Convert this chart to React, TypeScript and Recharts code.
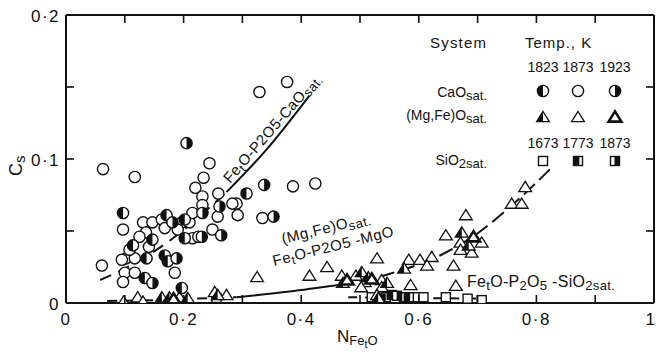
import { ComposedChart, Scatter, XAxis, YAxis } from "recharts";

// Cs vs N(FetO) — scanned figure.
type Pt = { x: number; y: number };
const toPts = (a: number[][]): Pt[] => a.map(([x, y]) => ({ x, y }));

// CaO saturated, circles (1823 left-black, 1873 open, 1923 right-black)
const caO1823 = toPts([
  [0.307, 0.076], [0.097, 0.0625], [0.171, 0.061], [0.202, 0.045], [0.114, 0.04],
  [0.147, 0.044], [0.137, 0.031], [0.168, 0.033], [0.173, 0.029], [0.134, 0.0174],
  [0.197, 0.0104], [0.202, 0.058],
]);
const caO1873 = toPts([
  [0.329, 0.1465], [0.376, 0.1535], [0.063, 0.093], [0.117, 0.0875], [0.244, 0.097],
  [0.234, 0.087], [0.22, 0.08], [0.232, 0.074], [0.259, 0.076], [0.386, 0.081],
  [0.424, 0.083], [0.29, 0.069], [0.232, 0.068], [0.283, 0.069], [0.292, 0.061],
  [0.258, 0.06], [0.097, 0.051], [0.131, 0.056], [0.147, 0.056], [0.163, 0.058],
  [0.197, 0.056], [0.21, 0.056], [0.215, 0.0625], [0.136, 0.049], [0.168, 0.052],
  [0.19, 0.051], [0.249, 0.051], [0.215, 0.045], [0.334, 0.059], [0.061, 0.026],
  [0.141, 0.039], [0.102, 0.031], [0.117, 0.031], [0.1, 0.021], [0.117, 0.021],
  [0.097, 0.0146], [0.185, 0.021], [0.095, 0.03], [0.125, 0.046], [0.108, 0.037],
  [0.225, 0.046],
]);
const caO1923 = toPts([
  [0.205, 0.111], [0.337, 0.082], [0.261, 0.067], [0.181, 0.056], [0.232, 0.0625],
  [0.264, 0.047], [0.231, 0.046], [0.353, 0.06], [0.188, 0.031], [0.147, 0.0139],
]);

// (Mg,Fe)O saturated, triangles
const mg1823 = toPts([
  [0.163, 0.004], [0.176, 0.004], [0.207, 0.0035], [0.258, 0.0056], [0.673, 0.049],
  [0.685, 0.04], [0.575, 0.024], [0.471, 0.014], [0.503, 0.0215], [0.514, 0.018],
  [0.546, 0.014], [0.531, 0.0035],
]);
const mg1873 = toPts([
  [0.098, 0.001], [0.122, 0.004], [0.131, 0.001], [0.193, 0.004], [0.253, 0.0076],
  [0.273, 0.0056], [0.325, 0.018], [0.414, 0.019], [0.444, 0.025], [0.781, 0.0806],
  [0.758, 0.069], [0.775, 0.069], [0.68, 0.061], [0.646, 0.047], [0.671, 0.042],
  [0.671, 0.037], [0.69, 0.035], [0.707, 0.042], [0.659, 0.026], [0.583, 0.03],
  [0.602, 0.03], [0.622, 0.032], [0.614, 0.026], [0.529, 0.031], [0.586, 0.0125],
  [0.663, 0.012], [0.469, 0.019], [0.493, 0.019], [0.508, 0.0146], [0.502, 0.011],
  [0.537, 0.016], [0.537, 0.011], [0.529, 0.0056],
]);
const mg1923 = toPts([[0.693, 0.046], [0.52, 0.0167], [0.183, 0.003], [0.478, 0.016]]);

// SiO2 saturated, squares (1673 open, 1773 left-black, 1873 right-black)
const si1673 = toPts([
  [0.256, 0.0035], [0.52, 0.004], [0.544, 0.004], [0.575, 0.004], [0.595, 0.004],
  [0.608, 0.004], [0.646, 0.004], [0.683, 0.003], [0.707, 0.002],
]);
const si1773 = toPts([[0.554, 0.0056], [0.583, 0.004]]);
const si1873 = toPts([[0.563, 0.005], [0.535, 0.003]]);

// fitted curves
const caoDashed = toPts([[0.058, 0.016], [0.075, 0.019], [0.172, 0.042], [0.273, 0.077]]);
const caoSolid = toPts([[0.273, 0.077], [0.342, 0.107], [0.414, 0.144]]);
const mgDashed = toPts([[0.07, 0.0014], [0.15, 0.002], [0.22, 0.003], [0.29, 0.004]]);
const mgSolid = toPts([[0.29, 0.004], [0.38, 0.008], [0.464, 0.0125]]);
const mgUpper = toPts([
  [0.464, 0.0125], [0.548, 0.02], [0.636, 0.033], [0.702, 0.049], [0.756, 0.067], [0.826, 0.094],
]);
const siDashed = toPts([[0.48, 0.004], [0.71, 0.003]]);

const xTicks = [0, 0.1, 0.2, 0.3, 0.4, 0.5, 0.6, 0.7, 0.8, 0.9, 1];
const xTickLabels = ["0", "", "0·2", "", "0·4", "", "0·6", "", "0·8", "", "1"];
const yTicks = [0, 0.05, 0.1, 0.15, 0.2];
const yTickLabels = ["0", "", "0·1", "", "0·2"];

const FONT = "'Liberation Sans', Arial, sans-serif";
const INK = "#111";

function CircleMark({ cx, cy, side }: { cx: number; cy: number; side: "none" | "left" | "right" }) {
  const r = 5.6;
  return (
    <g>
      <circle cx={cx} cy={cy} r={r} fill="#fff" stroke={INK} strokeWidth={1.4} />
      {side !== "none" && (
        <path d={`M${cx},${cy - r} A${r},${r} 0 0 ${side === "right" ? 1 : 0} ${cx},${cy + r} Z`} fill={INK} />
      )}
    </g>
  );
}

function TriMark({ cx, cy, kind }: { cx: number; cy: number; kind: "half" | "open" | "bold" }) {
  const w = 6.4;
  const top = cy - 5.6;
  const bot = cy + 4.6;
  return (
    <g>
      <polygon
        points={`${cx},${top} ${cx - w},${bot} ${cx + w},${bot}`}
        fill="#fff"
        stroke={INK}
        strokeWidth={kind === "bold" ? 2.6 : 1.3}
      />
      {kind === "half" && <polygon points={`${cx},${top} ${cx - w},${bot} ${cx},${bot}`} fill={INK} />}
    </g>
  );
}

function SqMark({ cx, cy, side }: { cx: number; cy: number; side: "none" | "left" | "right" }) {
  const s = 4.5;
  return (
    <g>
      <rect x={cx - s} y={cy - s} width={2 * s} height={2 * s} fill="#fff" stroke={INK} strokeWidth={1.4} />
      {side === "left" && <rect x={cx - s} y={cy - s} width={s * 1.3} height={2 * s} fill={INK} />}
      {side === "right" && <rect x={cx + s - s * 1.1} y={cy - s} width={s * 1.1} height={2 * s} fill={INK} />}
    </g>
  );
}

const none = () => <g />;

function BottomTick(p: any) {
  const label = xTickLabels[p.index];
  const last = p.index === xTicks.length - 1;
  return (
    <g>
      <line x1={p.x} x2={p.x} y1={p.y} y2={p.y - 8} stroke={INK} strokeWidth={1.6} />
      {label && (
        <text x={last ? 655 : p.x} y={p.y + 22} textAnchor={last ? "end" : "middle"} fontFamily={FONT}
          fontSize={17} letterSpacing={last ? 0 : 1.5} fill={INK}>
          {label}
        </text>
      )}
    </g>
  );
}
function TopTick(p: any) {
  return <line x1={p.x} x2={p.x} y1={p.y} y2={p.y + 8} stroke={INK} strokeWidth={1.6} />;
}
function LeftTick(p: any) {
  const label = yTickLabels[p.index];
  return (
    <g>
      <line x1={p.x} x2={p.x + 8} y1={p.y} y2={p.y} stroke={INK} strokeWidth={1.6} />
      {label && (
        <text x={p.x - 6} y={p.y + 7} textAnchor="end" fontFamily={FONT} fontSize={17} letterSpacing={1.5} fill={INK}>
          {label}
        </text>
      )}
    </g>
  );
}
function RightTick(p: any) {
  return <line x1={p.x} x2={p.x - 8} y1={p.y} y2={p.y} stroke={INK} strokeWidth={1.6} />;
}

const axisLine = { stroke: INK, strokeWidth: 2 };

export default function App() {
  const curve = (data: Pt[], dash?: string) => (
    <Scatter
      data={data}
      xAxisId="t"
      yAxisId="r"
      fill={INK}
      line={{ stroke: INK, strokeWidth: 2, strokeDasharray: dash }}
      lineJointType="monotoneX"
      shape={none}
      isAnimationActive={false}
    />
  );
  const mark = (data: Pt[], shape: (p: any) => any) => (
    <Scatter data={data} xAxisId="b" yAxisId="l" shape={shape} isAnimationActive={false} />
  );
  const colX = [543, 578, 615];

  return (
    <div style={{ position: "absolute", left: 0, top: 0, width: 656, height: 354, background: "#fff" }}>
      <ComposedChart width={656} height={354} margin={{ top: 14, right: 1, bottom: 50, left: 65 }}>
        <XAxis xAxisId="b" dataKey="x" type="number" domain={[0, 1]} ticks={xTicks} interval={0}
          tickSize={0} tickMargin={0} height={1} axisLine={axisLine} tickLine={false} tick={BottomTick} allowDataOverflow />
        <XAxis xAxisId="t" orientation="top" dataKey="x" type="number" domain={[0, 1]} ticks={xTicks} interval={0}
          tickSize={0} tickMargin={0} height={1} axisLine={axisLine} tickLine={false} tick={TopTick} allowDataOverflow />
        <YAxis yAxisId="l" dataKey="y" type="number" domain={[0, 0.2]} ticks={yTicks} interval={0}
          tickSize={0} tickMargin={0} width={1} axisLine={axisLine} tickLine={false} tick={LeftTick} allowDataOverflow />
        <YAxis yAxisId="r" orientation="right" dataKey="y" type="number" domain={[0, 0.2]} ticks={yTicks} interval={0}
          tickSize={0} tickMargin={0} width={1} axisLine={axisLine} tickLine={false} tick={RightTick} allowDataOverflow />

        {curve(caoDashed, "12 8")}
        {curve(caoSolid)}
        {curve(mgDashed, "10 8")}
        {curve(mgSolid)}
        {curve(mgUpper, "15 6")}
        {curve(siDashed, "9 8")}

        {mark(si1673, (p: any) => <SqMark cx={p.cx} cy={p.cy} side="none" />)}
        {mark(si1773, (p: any) => <SqMark cx={p.cx} cy={p.cy} side="left" />)}
        {mark(si1873, (p: any) => <SqMark cx={p.cx} cy={p.cy} side="right" />)}
        {mark(mg1873, (p: any) => <TriMark cx={p.cx} cy={p.cy} kind="open" />)}
        {mark(mg1823, (p: any) => <TriMark cx={p.cx} cy={p.cy} kind="half" />)}
        {mark(mg1923, (p: any) => <TriMark cx={p.cx} cy={p.cy} kind="bold" />)}
        {mark(caO1873, (p: any) => <CircleMark cx={p.cx} cy={p.cy} side="none" />)}
        {mark(caO1823, (p: any) => <CircleMark cx={p.cx} cy={p.cy} side="left" />)}
        {mark(caO1923, (p: any) => <CircleMark cx={p.cx} cy={p.cy} side="right" />)}
      </ComposedChart>

      <svg width={656} height={354} style={{ position: "absolute", left: 0, top: 0, pointerEvents: "none" }}
        fontFamily={FONT} fill={INK}>
        {/* axis titles */}
        <text transform="translate(22,176) rotate(-90)" fontSize={18}>
          C<tspan dy={3} fontSize={15}>s</tspan>
        </text>
        <text x={337} y={342} fontSize={17}>
          N<tspan dy={3} fontSize={13}>Fe</tspan>
          <tspan dy={3} fontSize={11}>t</tspan>
          <tspan dy={-3} fontSize={13}>O</tspan>
        </text>

        {/* curve labels */}
        <text transform="translate(230,184) rotate(-49)" fontSize={15} letterSpacing={0.4}>
          Fe<tspan dy={3} fontSize={12}>t</tspan>
          <tspan dy={-3}>O-P2O5-CaO</tspan>
          <tspan dy={3} fontSize={13}>sat.</tspan>
        </text>
        <text transform="translate(283,244) rotate(-14)" fontSize={15} letterSpacing={0.5}>
          (Mg,Fe)O<tspan dy={3} fontSize={13}>sat.</tspan>
        </text>
        <text transform="translate(274,266) rotate(-14)" fontSize={15} letterSpacing={0.5}>
          Fe<tspan dy={3} fontSize={12}>t</tspan>
          <tspan dy={-3}>O-P2O5 -MgO</tspan>
        </text>
        <text x={467} y={287} fontSize={16} letterSpacing={0.3}>
          Fe<tspan dy={3} fontSize={13}>t</tspan>
          <tspan dy={-3}>O-P</tspan>
          <tspan dy={3} fontSize={13}>2</tspan>
          <tspan dy={-3}>O</tspan>
          <tspan dy={3} fontSize={13}>5</tspan>
          <tspan dy={-3}> -SiO</tspan>
          <tspan dy={3} fontSize={13}>2sat.</tspan>
        </text>

        {/* legend */}
        <text x={430} y={48} fontSize={15} letterSpacing={1.2}>System</text>
        <text x={525} y={48} fontSize={15} letterSpacing={1}>Temp., K</text>
        {["1823", "1873", "1923"].map((t, i) => (
          <text key={t} x={colX[i]} y={72} fontSize={14} textAnchor="middle">{t}</text>
        ))}
        <text x={487} y={97} fontSize={14} textAnchor="end">
          CaO<tspan dy={3} fontSize={13}>sat.</tspan>
        </text>
        <CircleMark cx={colX[0]} cy={91} side="left" />
        <CircleMark cx={colX[1]} cy={91} side="none" />
        <CircleMark cx={colX[2]} cy={91} side="right" />
        <text x={487} y={120} fontSize={14} textAnchor="end">
          (Mg,Fe)O<tspan dy={3} fontSize={13}>sat.</tspan>
        </text>
        <TriMark cx={colX[0]} cy={117} kind="half" />
        <TriMark cx={colX[1]} cy={117} kind="open" />
        <TriMark cx={colX[2]} cy={117} kind="bold" />
        {["1673", "1773", "1873"].map((t, i) => (
          <text key={t} x={colX[i]} y={148} fontSize={14} textAnchor="middle">{t}</text>
        ))}
        <text x={487} y={165} fontSize={14} textAnchor="end">
          SiO<tspan dy={3} fontSize={13}>2sat.</tspan>
        </text>
        <SqMark cx={colX[0]} cy={161} side="none" />
        <SqMark cx={colX[1]} cy={161} side="left" />
        <SqMark cx={colX[2]} cy={161} side="right" />
      </svg>
    </div>
  );
}
